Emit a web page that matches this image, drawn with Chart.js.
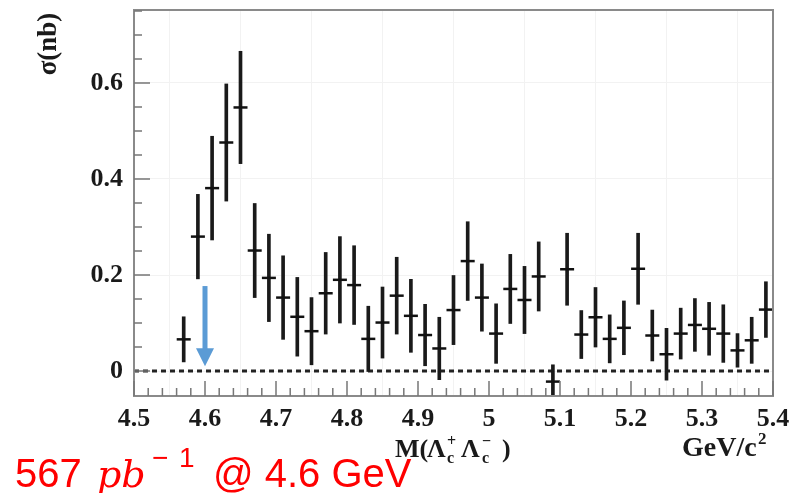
<!DOCTYPE html>
<html>
<head>
<meta charset="utf-8">
<script src="https://cdn.jsdelivr.net/npm/chart.js@4.4.1/dist/chart.umd.min.js"></script>
<style>
  body { margin: 0; background: #fff; }
  #wrap { width: 800px; height: 493px; position: relative; }
</style>
</head>
<body>
<div id="wrap"><canvas id="myChart"></canvas></div>
<script>
// bin centres, M(Lc+ Lc-) in GeV/c^2
var mass = [4.57, 4.59, 4.61, 4.63, 4.65, 4.67, 4.69, 4.71, 4.73, 4.75,
            4.77, 4.79, 4.81, 4.83, 4.85, 4.87, 4.89, 4.91, 4.93, 4.95,
            4.97, 4.99, 5.01, 5.03, 5.05, 5.07, 5.09, 5.11, 5.13, 5.15,
            5.17, 5.19, 5.21, 5.23, 5.25, 5.27, 5.29, 5.31, 5.33, 5.35,
            5.37, 5.39];
// cross section in nb
var sigma = [0.066, 0.280, 0.381, 0.476, 0.549, 0.251, 0.194, 0.153, 0.113, 0.083,
             0.162, 0.190, 0.179, 0.067, 0.101, 0.157, 0.115, 0.075, 0.047, 0.127,
             0.229, 0.153, 0.078, 0.171, 0.148, 0.197, -0.022, 0.212, 0.076, 0.112,
             0.067, 0.090, 0.213, 0.074, 0.035, 0.078, 0.096, 0.088, 0.078, 0.043,
             0.064, 0.128];
// errors
var err = [0.047, 0.088, 0.108, 0.122, 0.117, 0.098, 0.091, 0.087, 0.082, 0.070,
           0.085, 0.090, 0.082, 0.068, 0.074, 0.080, 0.076, 0.064, 0.065, 0.072,
           0.082, 0.070, 0.062, 0.072, 0.070, 0.072, 0.035, 0.075, 0.050, 0.062,
           0.050, 0.056, 0.074, 0.053, 0.054, 0.053, 0.055, 0.055, 0.060, 0.035,
           0.048, 0.058];
// tick labels
var xTicks = [4.5, 4.6, 4.7, 4.8, 4.9, 5, 5.1, 5.2, 5.3, 5.4];
var yTicks = [0, 0.2, 0.4, 0.6];
// the blue arrow at 4.6 GeV
var arrowX = 4.6, arrowTop = 0.177, arrowTip = 0.010;

var points = mass.map(function (m, i) { return { x: m, y: sigma[i] }; });
var bars = mass.map(function (m, i) { return { x: m, y: [sigma[i] - err[i], sigma[i] + err[i]] }; });

var serif = "'Liberation Serif', 'Times New Roman', serif";

// frame, inner ticks, arrow and texts
var extras = {
  id: 'extras',
  afterDraw: function (chart) {
    var ctx = chart.ctx, a = chart.chartArea, x = chart.scales.x, y = chart.scales.y;
    ctx.save();
    // frame
    ctx.strokeStyle = '#8a8a8a';
    ctx.lineWidth = 2;
    ctx.strokeRect(a.left, a.top, a.right - a.left, a.bottom - a.top);
    // ticks pointing inward
    ctx.strokeStyle = '#777';
    ctx.lineWidth = 1.5;
    ctx.beginPath();
    for (var i = 0; i <= 45; i++) {
      var px = x.getPixelForValue(4.5 + i * 0.02);
      ctx.moveTo(px, a.bottom);
      ctx.lineTo(px, a.bottom - (i % 5 === 0 ? 15 : 8));
    }
    for (var j = 0; j <= 15; j++) {
      var py = y.getPixelForValue(j * 0.05);
      if (py < a.top) continue;
      ctx.moveTo(a.left, py);
      ctx.lineTo(a.left + (j % 4 === 0 ? 16 : 8), py);
    }
    ctx.stroke();

    // arrow
    var ax = x.getPixelForValue(arrowX);
    var at = y.getPixelForValue(arrowTop);
    var ab = y.getPixelForValue(arrowTip);
    ctx.fillStyle = '#5b9bd5';
    ctx.fillRect(ax - 2.5, at, 5, ab - at - 16);
    ctx.beginPath();
    ctx.moveTo(ax - 9, ab - 18);
    ctx.lineTo(ax + 9, ab - 18);
    ctx.lineTo(ax, ab);
    ctx.closePath();
    ctx.fill();

    // axis titles
    ctx.fillStyle = '#1a1a1a';
    ctx.textBaseline = 'alphabetic';
    ctx.font = 'bold 26px ' + serif;
    ctx.fillText('M(', 395, 457);
    ctx.fillText('\u039b', 427, 457);
    ctx.fillText('\u039b', 461, 457);
    ctx.fillText(')', 502, 457);
    ctx.font = 'bold 16px ' + serif;
    ctx.fillText('c', 447, 463);
    ctx.fillText('+', 447, 446);
    ctx.fillText('c', 482, 463);
    ctx.fillText('\u2212', 482, 446);
    ctx.font = 'bold 28px ' + serif;
    ctx.fillText('GeV/c', 682, 456);
    ctx.font = 'bold 17px ' + serif;
    ctx.fillText('2', 758, 444);

    ctx.save();
    ctx.translate(49, 44);
    ctx.rotate(-Math.PI / 2);
    ctx.textAlign = 'center';
    ctx.textBaseline = 'middle';
    ctx.font = 'bold 27px ' + serif;
    ctx.fillText('\u03c3(nb)', 0, 0);
    ctx.restore();

    // luminosity note
    ctx.fillStyle = '#ff0000';
    ctx.font = "40px 'Liberation Sans', Arial, sans-serif";
    ctx.fillText('567', 15, 487);
    ctx.fillText('@ 4.6 GeV', 213, 487);
    ctx.font = "italic 38px 'DejaVu Serif', serif";
    ctx.fillText('pb', 97, 487);
    ctx.font = "28px 'Liberation Sans', Arial, sans-serif";
    ctx.fillText('\u2212', 152, 467);
    ctx.fillText('1', 179, 467);
    ctx.restore();
  }
};

var myChart = new Chart('myChart', {
  type: 'scatter',
  data: {
    datasets: [
      {
        type: 'scatter',
        data: points,
        pointStyle: 'line',
        pointRadius: 7,
        pointBorderWidth: 2.5,
        borderColor: '#111',
        backgroundColor: '#111'
      },
      {
        type: 'bar',
        data: bars,
        barThickness: 3,
        backgroundColor: '#1a1a1a',
        borderWidth: 0
      },
      {
        type: 'line',
        data: [{ x: 4.5, y: 0 }, { x: 5.4, y: 0 }],
        borderColor: '#222',
        borderWidth: 3,
        borderDash: [5, 4],
        pointRadius: 0,
        fill: false
      }
    ]
  },
  options: {
    responsive: true,
    maintainAspectRatio: false,
    animation: false,
    events: [],
    layout: { padding: { left: 0, right: 27, top: 10, bottom: 0 } },
    plugins: { legend: { display: false }, tooltip: { enabled: false } },
    scales: {
      x: {
        type: 'linear',
        min: 4.5,
        max: 5.4,
        offset: false,
        afterFit: function (s) { s.height = 97; s.paddingLeft = 0; s.paddingRight = 0; },
        afterBuildTicks: function (s) { s.ticks = xTicks.map(function (v) { return { value: v }; }); },
        ticks: {
          padding: 8,
          maxRotation: 0,
          autoSkip: false,
          color: '#1a1a1a',
          font: { family: serif, size: 26, weight: 'bold' },
          callback: function (v) { return String(+v.toFixed(2)); }
        },
        grid: { color: '#f2f2f2', drawTicks: false },
        border: { display: false }
      },
      y: {
        min: -0.052,
        max: 0.752,
        afterFit: function (s) { s.width = 134; s.paddingTop = 0; s.paddingBottom = 0; },
        afterBuildTicks: function (s) { s.ticks = yTicks.map(function (v) { return { value: v }; }); },
        ticks: {
          padding: 11,
          color: '#1a1a1a',
          font: { family: serif, size: 26, weight: 'bold' },
          callback: function (v) { return v === 0 ? '0' : v.toFixed(1); }
        },
        grid: { color: '#f2f2f2', drawTicks: false },
        border: { display: false }
      }
    }
  },
  plugins: [extras]
});
</script>
</body>
</html>
